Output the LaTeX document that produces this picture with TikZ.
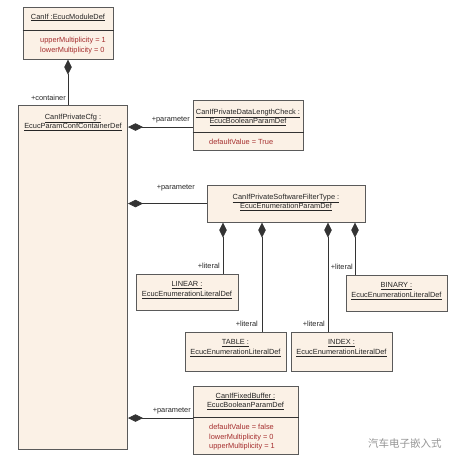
\documentclass[tikz,border=0pt]{standalone}
\usepackage{fontspec}
\setmainfont{Liberation Sans}
\newfontfamily\cjkfont{Noto Sans CJK SC}
\usepackage{tikz}
\usetikzlibrary{arrows.meta,positioning}
\definecolor{boxfill}{RGB}{251,241,230}
\definecolor{boxline}{RGB}{90,90,90}
\definecolor{attrred}{RGB}{165,45,45}
\definecolor{wmgray}{RGB}{150,150,150}
\tikzstyle{umlbox}=[draw=boxline,fill=boxfill,line width=1pt,inner sep=0pt]
\tikzstyle{umltitle}=[inner sep=0pt,align=center,font=\fontsize{7.4}{9.5}\selectfont,text=black!85]
\tikzstyle{umlattr}=[inner sep=0pt,align=left,anchor=north west,font=\fontsize{7.4}{9.5}\selectfont,text=attrred]
\tikzstyle{divider}=[draw=black!80,line width=0.8pt]
\tikzstyle{role}=[inner sep=0pt,anchor=base east,font=\fontsize{7.4}{9}\selectfont,text=black!85]
\tikzstyle{comp}=[{Diamond[length=15pt,width=7.5pt]}-,line width=0.7pt,draw=black!80]

\begin{document}
\begin{tikzpicture}[x=1pt,y=-1pt]
\useasboundingbox (0,0) rectangle (460,464);
% module
\node[umlbox,minimum width=90pt,minimum height=52pt] (mod) at (68,33) {};
\node[umltitle,below=7pt of mod.north] (modt) {\underline{CanIf :EcucModuleDef}};
\draw[divider] (mod.west |- 0,30) -- (mod.east |- 0,30);
\node[umlattr] (moda) at (40,37) {upperMultiplicity = 1\\lowerMultiplicity = 0};
% container
\node[umlbox,minimum width=109pt,minimum height=344pt] (cfg) at (73,277) {};
\node[umltitle,below=9pt of cfg.north] (cfgt) {\underline{CanIfPrivateCfg :}\\\underline{EcucParamConfContainerDef}};
% parameters
\node[umlbox,minimum width=110pt,minimum height=50pt] (dlc) at (248,125) {};
\node[umltitle,below=9pt of dlc.north] (dlct) {\underline{CanIfPrivateDataLengthCheck :}\\\underline{EcucBooleanParamDef}};
\draw[divider] (dlc.west |- 0,132) -- (dlc.east |- 0,132);
\node[umlattr] (dlca) at (209,139) {defaultValue = True};
\node[umlbox,minimum width=158pt,minimum height=37pt] (sft) at (286,203.5) {};
\node[umltitle,below=9pt of sft.north] (sftt) {\underline{CanIfPrivateSoftwareFilterType :}\\\underline{EcucEnumerationParamDef}};
\node[umlbox,minimum width=105pt,minimum height=68pt] (fbuf) at (245.5,420) {};
\node[umltitle,below=7pt of fbuf.north] (fbuft) {\underline{CanIfFixedBuffer :}\\\underline{EcucBooleanParamDef}};
\draw[divider] (fbuf.west |- 0,417) -- (fbuf.east |- 0,417);
\node[umlattr] (fbufa) at (209,424) {defaultValue = false\\lowerMultiplicity = 0\\upperMultiplicity = 1};
% literals
\node[umlbox,minimum width=102pt,minimum height=36pt] (linear) at (187,292) {};
\node[umltitle,below=8pt of linear.north] {\underline{LINEAR :}\\\underline{EcucEnumerationLiteralDef}};
\node[umlbox,minimum width=101pt,minimum height=36pt] (binary) at (396.5,293) {};
\node[umltitle,below=8pt of binary.north] {\underline{BINARY :}\\\underline{EcucEnumerationLiteralDef}};
\node[umlbox,minimum width=101pt,minimum height=39pt] (table) at (235.5,351.5) {};
\node[umltitle,below=8pt of table.north] {\underline{TABLE :}\\\underline{EcucEnumerationLiteralDef}};
\node[umlbox,minimum width=101pt,minimum height=39pt] (index) at (341.5,351.5) {};
\node[umltitle,below=8pt of index.north] {\underline{INDEX :}\\\underline{EcucEnumerationLiteralDef}};
% compositions
\draw[comp] (mod.south) -- (mod.south |- cfg.north);
\draw[comp] (cfg.east |- 0,127) -- (dlc.west |- 0,127);
\draw[comp] (cfg.east |- sft.west) -- (sft.west);
\draw[comp] (cfg.east |- 0,418) -- (fbuf.west |- 0,418);
\foreach \x/\tgt in {223/linear,262/table,328/index,355/binary}
  \draw[comp] (sft.south -| \x,0) -- (\tgt.north -| \x,0);
% role names
\node[role] at (66,100) {+container};
\node[role] at (190,121) {+parameter};
\node[role] at (195,189.5) {+parameter};
\node[role] at (191,412) {+parameter};
\foreach \x/\y in {220/268.5,353/269,258/326,325/326}
  \node[role] at (\x,\y) {+literal};
% watermark
\node[anchor=west,inner sep=0pt,font=\cjkfont\fontsize{10.5}{12}\selectfont,text=wmgray] (wm) at (368,443) {汽车电子嵌入式};
\end{tikzpicture}
\end{document}
